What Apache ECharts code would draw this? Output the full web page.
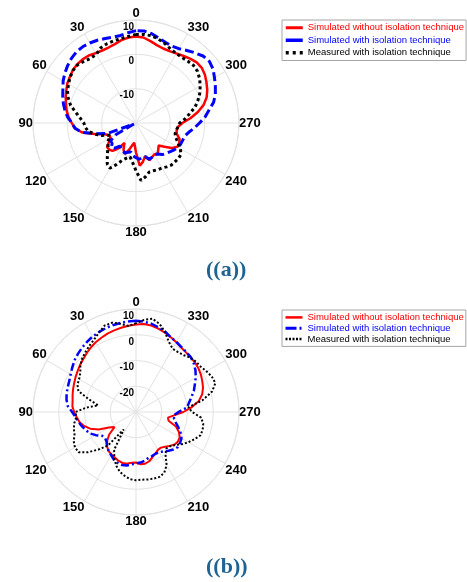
<!DOCTYPE html>
<html>
<head>
<meta charset="utf-8">
<script src="https://cdn.jsdelivr.net/npm/echarts@6/dist/echarts.min.js"></script>
<style>
html,body{margin:0;padding:0;background:#ffffff;}
#chart{width:467px;height:582px;}
</style>
</head>
<body>
<div id="chart"></div>
<script>
// Angles (degrees, counter-clockwise from top)
const angles = [0,5,10,15,20,25,30,35,40,45,50,55,60,65,70,75,80,85,90,95,
  100,105,110,115,120,125,130,135,140,145,150,155,160,165,170,175,
  180,185,190,195,200,205,210,215,220,225,230,235,240,245,250,255,260,265,
  270,275,280,285,290,295,300,305,310,315,320,325,330,335,340,345,350,355];
const angleTicks = [0,30,60,90,120,150,180,210,240,270,300,330];
const seriesNames = ['Simulated without isolation technique','Simulated with isolation technique','Measured with isolation technique'];
const captions = ['((a))','((b))'];

// (a) radius range -20..10
const aRed = [5.2,5.0,4.5,3.8,3.4,3.3,3.5,4.0,4.2,4.2,4.0,3.5,3.1,2.4,1.8,1.1,0.5,-0.3,-1.3,-2.1,
  -4.1,-7.5,-10.4,-11.4,-11.4,-10.4,-9.0,-9.0,-9.4,-10.9,-13.3,-11.4,-10.4,-11.8,-13.3,-14.2,
  -11.4,-7.5,-8.5,-9.9,-8.5,-9.0,-9.4,-9.0,-9.9,-10.7,-9.2,-7.3,-6.1,-6.1,-6.5,-7.7,-8.0,-7.7,
  -6.5,-4.1,-1.7,0.4,1.9,2.9,3.7,4.5,5.0,5.0,4.5,3.9,3.4,3.1,3.1,3.5,4.2,5.0];
const aBlue = [6.9,6.4,5.9,5.9,6.2,6.6,6.9,7.1,7.0,6.6,6.0,5.3,4.5,3.5,2.7,1.9,1.0,0.0,-1.3,-2.2,
  -4.1,-8.0,-11.2,-19.3,-13.3,-10.9,-10.9,-9.9,-10.4,-11.8,-11.4,-10.9,-10.7,-11.2,-11.4,-10.4,
  -9.9,-9.4,-9.7,-9.9,-8.8,-9.0,-9.4,-9.0,-8.0,-7.5,-7.0,-6.4,-5.9,-5.6,-5.5,-5.3,-4.4,-3.0,
  -1.5,0.2,1.6,3.4,4.6,5.5,6.4,7.4,7.9,7.6,6.7,5.8,5.0,4.7,5.0,5.6,6.4,6.9];
const aBlack = [5.8,5.3,5.0,4.8,4.6,4.2,3.1,3.0,3.5,4.0,3.9,3.4,2.7,2.0,1.0,-0.3,-2.2,-3.7,-4.8,-5.2,
  -5.9,-7.5,-9.4,-11.6,-10.9,-9.9,-9.4,-8.3,-7.0,-5.4,-4.8,-6.7,-8.5,-9.4,-10.0,-8.5,
  -6.1,-3.2,-4.1,-5.2,-5.2,-5.0,-4.9,-4.4,-4.0,-4.0,-3.9,-4.0,-5.1,-6.5,-7.7,-8.2,-8.1,-7.7,
  -7.3,-5.6,-4.1,-2.2,-0.8,0.5,1.6,2.6,3.4,3.7,3.5,3.3,3.4,3.8,4.6,5.3,5.8,5.9];

// (b) radius range -30..10
const bRed = [4.0,3.6,3.2,2.8,2.4,1.8,1.3,0.6,-0.2,-1.0,-1.6,-2.3,-2.9,-3.5,-4.0,-4.5,-5.0,-5.2,-6.0,-6.9,
  -7.7,-9.1,-11.1,-14.0,-17.9,-19.8,-16.4,-14.2,-12.5,-11.5,-10.9,-10.5,-9.9,-9.5,-9.6,-10.2,
  -10.4,-9.6,-9.6,-10.2,-11.3,-12.2,-13.0,-13.1,-12.4,-11.4,-10.4,-10.1,-10.4,-11.6,-13.5,-16.9,-17.4,-15.2,
  -11.6,-8.2,-5.2,-3.4,-2.3,-1.6,-0.9,-0.4,-0.1,0.0,0.2,0.6,1.3,2.0,2.8,3.5,4.1,4.3];
const bBlue = [5.4,5.3,5.1,4.9,4.6,4.2,3.8,3.2,2.6,1.9,1.2,0.2,-0.7,-1.4,-1.8,-2.1,-2.6,-3.4,-5.2,-6.5,
  -7.4,-8.3,-9.3,-10.3,-12.0,-13.9,-14.3,-13.8,-12.5,-11.5,-10.7,-9.6,-9.0,-8.7,-8.9,-9.6,
  -10.0,-10.3,-10.8,-11.5,-11.8,-12.1,-12.0,-11.3,-10.4,-9.4,-8.8,-9.1,-9.6,-10.9,-12.5,-14.0,-15.0,-15.3,
  -13.5,-10.1,-9.1,-7.7,-6.1,-4.8,-3.2,-1.8,-0.7,0.1,0.4,0.8,1.4,2.0,3.2,4.0,4.8,5.2];
const bBlack = [4.5,3.5,4.8,5.9,5.7,4.0,2.5,1.5,0.5,-0.5,-1.8,-3.6,-4.5,-4.9,-6.2,-11.1,-15.1,-10.6,-6.5,-6.7,
  -5.7,-5.0,-4.6,-3.3,-2.6,-2.8,-5.7,-9.4,-13.0,-21.7,-13.0,-10.1,-7.7,-5.9,-4.8,-3.8,
  -3.5,-3.6,-3.4,-3.2,-3.2,-4.0,-6.2,-10.1,-11.6,-11.2,-10.1,-8.2,-6.5,-5.0,-3.4,-3.2,-3.5,-4.6,
  -8.2,-9.6,-3.8,0.6,2.8,2.5,1.6,0.7,0.4,-0.1,-1.2,-1.6,-1.6,0.1,3.0,5.4,6.8,5.9];

const colors = ['#ff0000', '#0000ff', '#000000'];
const gridColor = '#e2e2e2';

function pairs(vals) {
  const d = vals.map((v, i) => [v, angles[i]]);
  d.push([vals[0], 360]);
  return d;
}

function angleAxis(idx) {
  return {
    polarIndex: idx, type: 'value', min: 0, max: 360, interval: 30,
    startAngle: 90, clockwise: false,
    axisLine: { show: true, lineStyle: { color: gridColor, width: 1 } },
    axisTick: { show: false },
    splitLine: { show: true, lineStyle: { color: gridColor, width: 1 } },
    axisLabel: {
      margin: 0, color: '#000', fontWeight: 'bold', fontSize: 13,
      fontFamily: 'Liberation Sans, Arial, sans-serif',
      formatter: v => angleTicks.indexOf(v) >= 0 ? String(v) : ''
    }
  };
}
function radiusAxis(idx, min) {
  return {
    polarIndex: idx, type: 'value', min: min, max: 10, interval: 10,
    axisLine: { show: false }, axisTick: { show: false },
    splitLine: { show: true, lineStyle: { color: gridColor, width: 1 } },
    axisLabel: {
      showMinLabel: false, margin: 2, align: 'right', verticalAlign: 'top',
      padding: [2, 0, 0, 0],
      fontSize: 10, fontWeight: 'bold', color: '#000',
      fontFamily: 'Liberation Sans, Arial, sans-serif'
    }
  };
}

const stylesA = [
  { color: colors[0], width: 2.5, type: 'solid' },
  { color: colors[1], width: 3, type: [9, 4] },
  { color: colors[2], width: 3, type: [3, 3] }
];
const stylesB = [
  { color: colors[0], width: 2, type: 'solid' },
  { color: colors[1], width: 2.5, type: [8, 3, 2, 3] },
  { color: colors[2], width: 2, type: [2, 2] }
];
const legendTypesA = ['solid', [17, 4], [3, 4]];
const legendTypesB = ['solid', [11, 3, 2, 3], [2, 1.5]];

function mkSeries(idx, vals, k, styles) {
  return {
    type: 'line', coordinateSystem: 'polar', polarIndex: idx,
    name: seriesNames[k], data: pairs(vals), symbol: 'none',
    lineStyle: styles[k], itemStyle: { color: colors[k] },
    z: 2 + k, animation: false, silent: true
  };
}

function mkLegend(top, lineH, gap, styles, types) {
  return {
    orient: 'vertical', left: 282, top: top,
    itemWidth: 17, itemHeight: 8, itemGap: gap,
    padding: [2, 2, 2, 2],
    borderColor: '#a6a6a6', borderWidth: 1, backgroundColor: '#ffffff',
    selectedMode: false,
    textStyle: { fontSize: 9.5, lineHeight: lineH, fontFamily: 'Liberation Sans, Arial, sans-serif' },
    data: seriesNames.map((n, i) => ({
      name: n,
      textStyle: { color: colors[i] },
      lineStyle: { color: colors[i], width: styles[i].width + 0.5, type: types[i] },
      itemStyle: { color: colors[i], opacity: 0 }
    }))
  };
}

const chart = echarts.init(document.getElementById('chart'), null, { renderer: 'canvas' });
chart.setOption({
  animation: false,
  backgroundColor: '#ffffff',
  title: [
    { text: captions[0], left: 206, top: 259, padding: 0,
      textStyle: { fontFamily: 'Liberation Serif, Times New Roman, serif', fontWeight: 'bold', fontSize: 22, color: '#1f6391' } },
    { text: captions[1], left: 206, top: 556, padding: 0,
      textStyle: { fontFamily: 'Liberation Serif, Times New Roman, serif', fontWeight: 'bold', fontSize: 22, color: '#1f6391' } }
  ],
  legend: [ mkLegend(20, 11.5, 1, stylesA, legendTypesA), mkLegend(310, 10.8, 0, stylesB, legendTypesB) ],
  polar: [
    { center: [136, 123], radius: [0, 103] },
    { center: [136, 412], radius: [0, 103] }
  ],
  angleAxis: [angleAxis(0), angleAxis(1)],
  radiusAxis: [radiusAxis(0, -20), radiusAxis(1, -30)],
  series: [
    mkSeries(0, aRed, 0, stylesA), mkSeries(0, aBlue, 1, stylesA), mkSeries(0, aBlack, 2, stylesA),
    mkSeries(1, bRed, 0, stylesB), mkSeries(1, bBlue, 1, stylesB), mkSeries(1, bBlack, 2, stylesB)
  ]
});
</script>
</body>
</html>
